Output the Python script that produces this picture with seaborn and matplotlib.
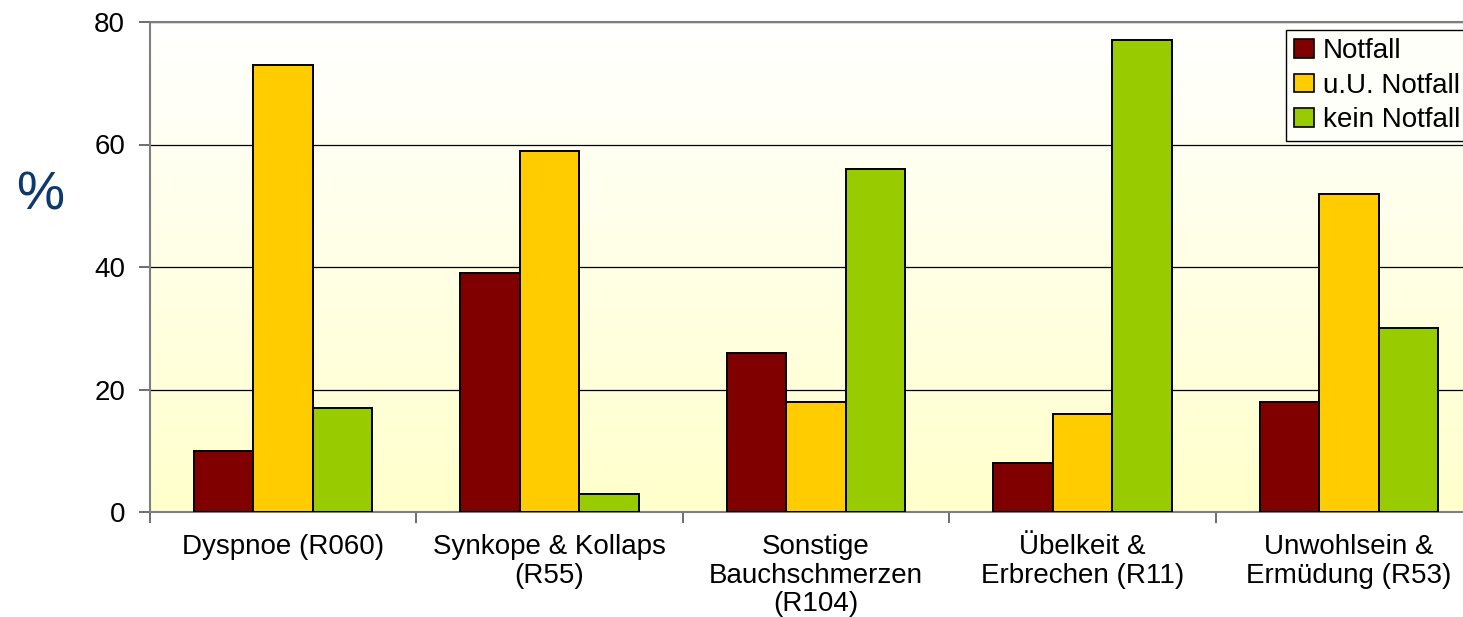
import numpy as np
import pandas as pd
import matplotlib
matplotlib.use("Agg")
import matplotlib.pyplot as plt
from matplotlib.colors import LinearSegmentedColormap
from matplotlib.ticker import FixedLocator
import seaborn as sns

# Diagnoses (x categories) and the share (%) per triage class
categories = [
    "Dyspnoe (R060)",
    "Synkope & Kollaps\n(R55)",
    "Sonstige\nBauchschmerzen\n(R104)",
    "Übelkeit &\nErbrechen (R11)",
    "Unwohlsein &\nErmüdung (R53)",
]
notfall = [10, 39, 26, 8, 18]
uu_notfall = [73, 59, 18, 16, 52]
kein_notfall = [17, 3, 56, 77, 30]
series_names = ["Notfall", "u.U. Notfall", "kein Notfall"]
y_ticks = [0, 20, 40, 60, 80]

df = pd.DataFrame({
    "Kategorie": categories * 3,
    "Gruppe": [series_names[0]] * 5 + [series_names[1]] * 5 + [series_names[2]] * 5,
    "Prozent": notfall + uu_notfall + kein_notfall,
})

sns.set_theme(style="white")
plt.rcParams["font.family"] = ["Liberation Sans", "DejaVu Sans"]

W, H = 1463, 617
fig = plt.figure(figsize=(W / 100, H / 100), dpi=100)
ax = fig.add_axes([150 / W, 105 / H, 1332 / W, 490 / H])

# soft white-to-yellow background of the plotting area
grad = np.linspace(0, 1, 256).reshape(-1, 1)
cmap = LinearSegmentedColormap.from_list("bg", ["#FFFFCC", "#FFFFFF"])
ax.imshow(grad, extent=[0, 1, 0, 1], transform=ax.transAxes, aspect="auto",
          cmap=cmap, origin="lower", zorder=-10)

palette = {"Notfall": "#800000", "u.U. Notfall": "#FFCC00", "kein Notfall": "#99CC00"}
sns.barplot(data=df, x="Kategorie", y="Prozent", hue="Gruppe", palette=palette,
            width=0.67, edgecolor="black", linewidth=1.4, saturation=1,
            ax=ax, zorder=3, legend=True)

ax.set_xlim(-0.5, 4.5)
ax.set_ylim(0, 80)
ax.set_yticks(y_ticks)
ax.set_xlabel("")
ax.set_ylabel("")

ax.set_axisbelow(True)
ax.yaxis.grid(True, color="black", linewidth=0.9)
ax.xaxis.grid(False)

for side in ["top", "left", "bottom"]:
    ax.spines[side].set_visible(True)
    ax.spines[side].set_color("#7F7F7F")
    ax.spines[side].set_linewidth(1.5)
ax.spines["right"].set_visible(False)

ax.tick_params(axis="y", which="major", left=True, length=8, width=1.2,
               color="#555555", pad=10, labelsize=20, labelcolor="black")
ax.tick_params(axis="x", which="major", bottom=False, length=0, pad=16,
               labelsize=20, labelcolor="black")
ax.xaxis.set_minor_locator(FixedLocator(np.arange(-0.5, 5.0, 1.0)))
ax.tick_params(axis="x", which="minor", bottom=True, length=8, width=1.2,
               color="#555555")
ax.set_xticks(range(len(categories)))
ax.set_xticklabels(categories, linespacing=1.12, ha="center")

fig.text(40 / W, 1 - 195 / H, "%", fontsize=39, color="#0E3A6B",
         ha="center", va="center")

leg = ax.legend(loc="upper left", bbox_to_anchor=(1286 / W, 1 - 30 / H),
                bbox_transform=fig.transFigure, fontsize=20, frameon=True,
                fancybox=False, edgecolor="black", framealpha=1,
                facecolor="white", handlelength=0.72, handleheight=0.65,
                handletextpad=0.3, borderpad=0.3, labelspacing=0.3,
                borderaxespad=0, labelcolor="black")
leg.get_frame().set_linewidth(1.0)
leg.get_frame().set_facecolor("#FFFFFA")
for h in leg.legend_handles:
    h.set_edgecolor("black")
    h.set_linewidth(1.2)

fig.savefig("out.png", dpi=100)
